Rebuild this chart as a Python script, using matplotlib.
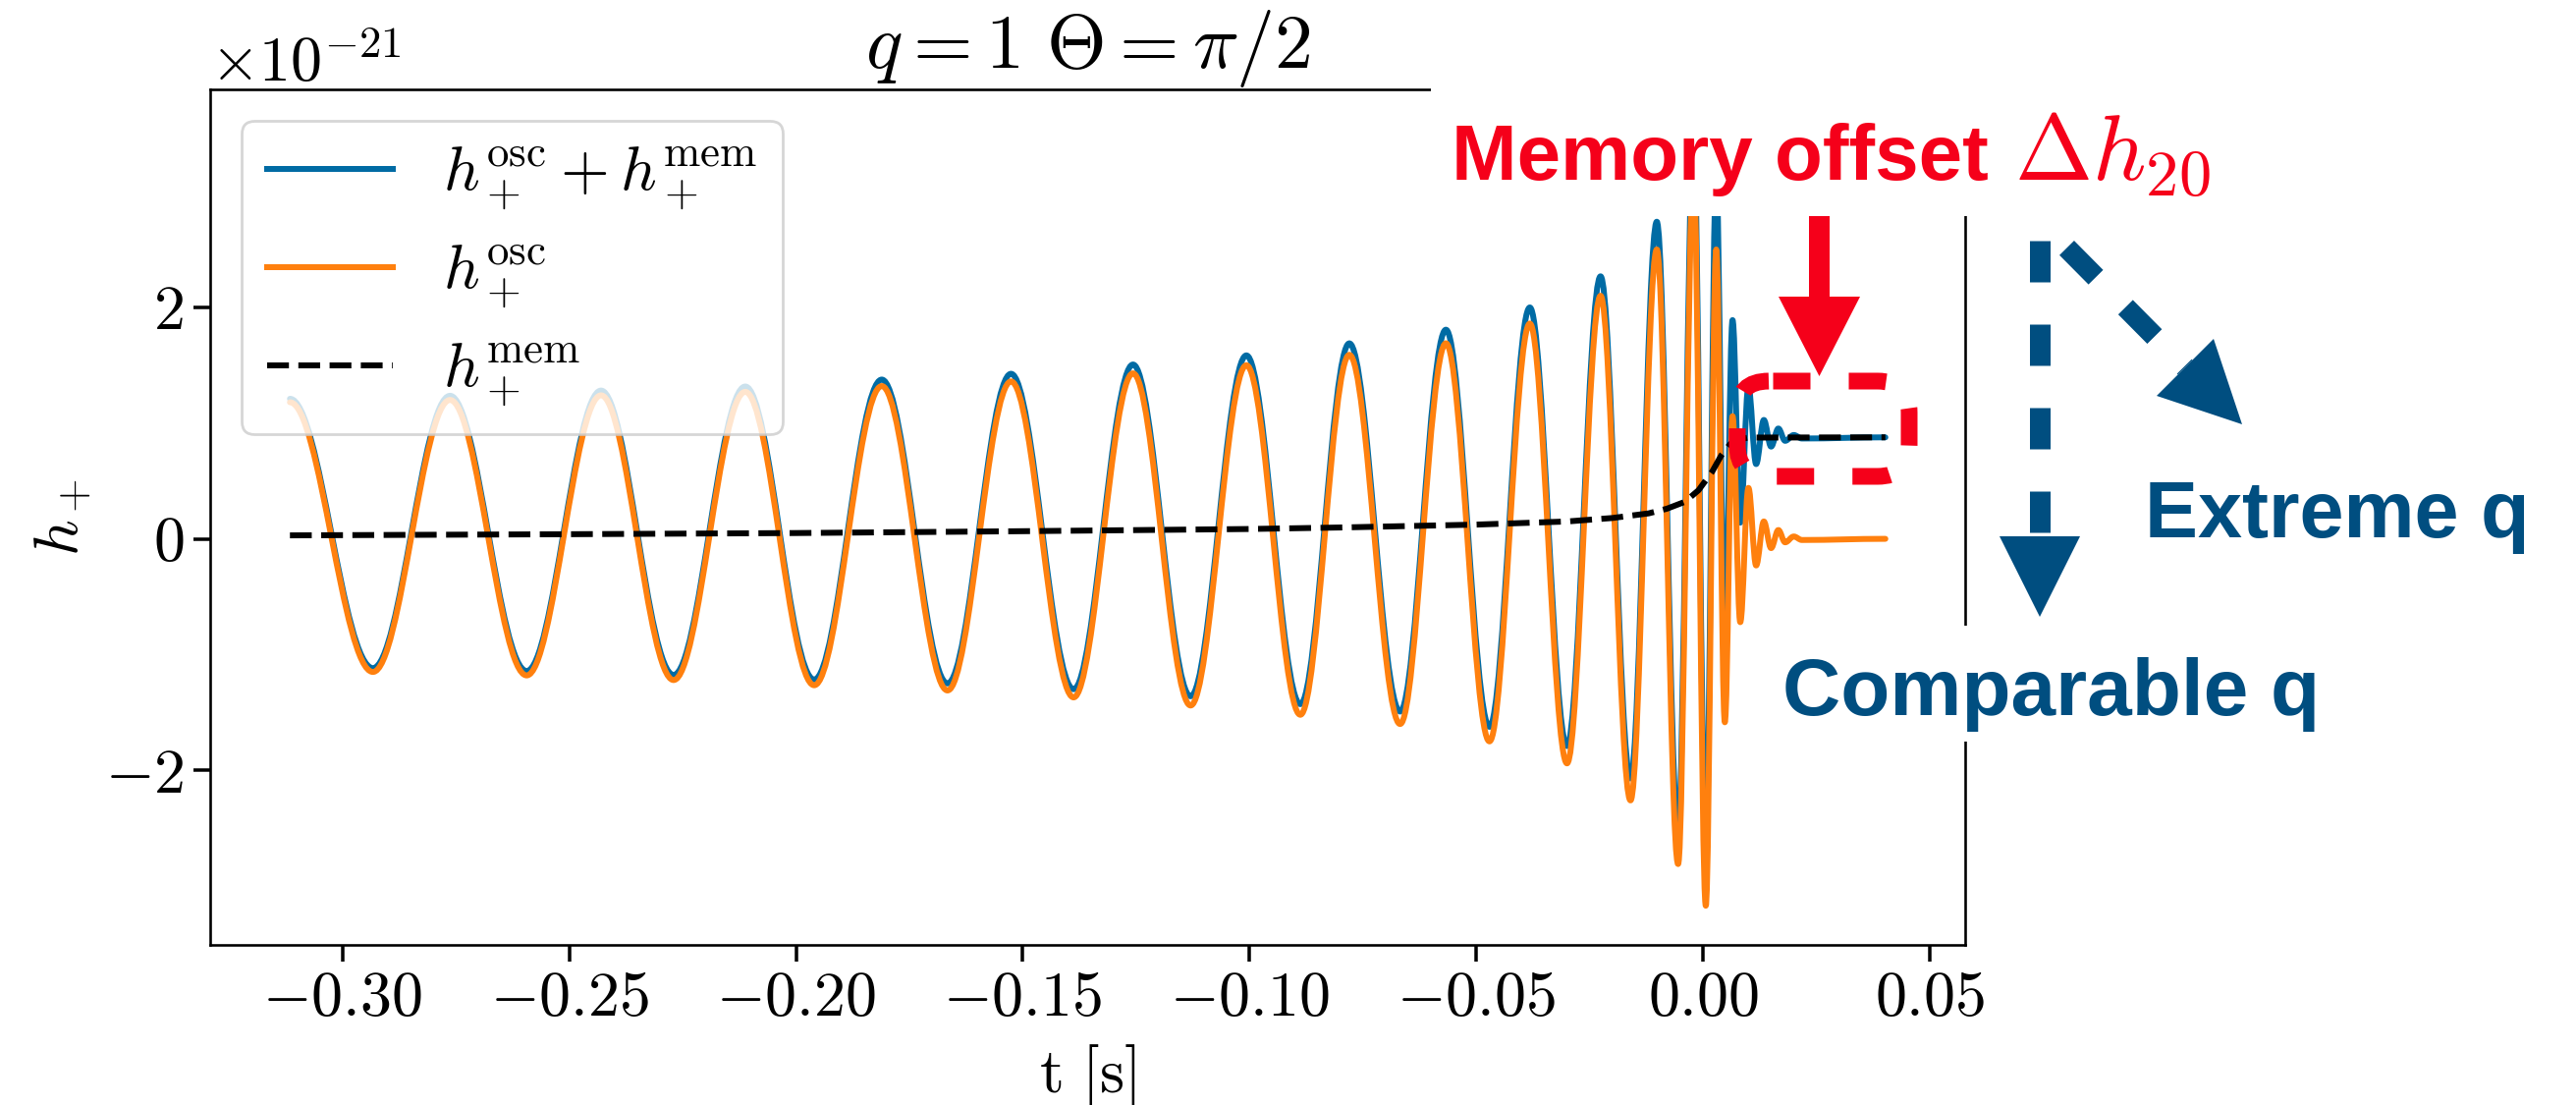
"""
Memory effect sketch: oscillatory strain vs. strain with memory, q = 1, Theta = pi/2.
"""

import numpy as np
import matplotlib
matplotlib.use("Agg")
import matplotlib.pyplot as plt
from matplotlib.path import Path
from matplotlib.patches import PathPatch, Rectangle, Polygon, FancyBboxPatch
from matplotlib.lines import Line2D
from matplotlib.ticker import MultipleLocator, FuncFormatter

plt.rcParams["mathtext.fontset"] = "cm"
plt.rcParams["font.family"] = "serif"
plt.rcParams["font.serif"] = ["cmr10", "DejaVu Serif"]
plt.rcParams["axes.formatter.use_mathtext"] = True

DPI = 200
W, H = 2623, 1125


def px(v):
    # pixel size -> points
    return v * 72 / DPI


COLORS = {
    "full": "#006BA4",
    "osc": "#FF800E",
    "mem": "black",
    "red": "#f5001a",
    "navy": "#004e80",
}

# extrema of h_+^osc, units of 1e-21
t_ext = [-0.3116, -0.2933, -0.2763, -0.2594, -0.2430, -0.2270, -0.2112, -0.1960,
         -0.1811, -0.1666, -0.1526, -0.1388, -0.1257, -0.1130, -0.1007, -0.0888,
         -0.0780, -0.0668, -0.0567, -0.0471, -0.0382, -0.0300, -0.0226, -0.0160,
         -0.0102, -0.0055, -0.0021, 0.0006, 0.0029, 0.0048, 0.0065, 0.0082,
         0.0100, 0.0117, 0.0134, 0.0150, 0.0166, 0.0181, 0.0200, 0.0218, 0.0402]
h_osc = [1.18, -1.15, 1.20, -1.18, 1.24, -1.22, 1.27, -1.265,
         1.32, -1.31, 1.36, -1.37, 1.43, -1.44, 1.50, -1.52,
         1.59, -1.60, 1.69, -1.75, 1.86, -1.94, 2.10, -2.26,
         2.50, -2.81, 3.17, -3.17, 2.50, -1.585, 1.06, -0.72,
         0.44, -0.23, 0.15, -0.08, 0.076, -0.03, 0.02, -0.01, 0.0]
# h_+^osc + h_+^mem at the same times
h_full = [1.21, -1.117, 1.236, -1.142, 1.281, -1.176, 1.316, -1.216,
          1.376, -1.249, 1.426, -1.299, 1.506, -1.36, 1.585, -1.428,
          1.689, -1.492, 1.807, -1.624, 1.999, -1.79, 2.268, -2.07,
          2.74, -2.51, 3.55, -2.70, 3.13, -0.835, 1.89, 0.14,
          1.315, 0.646, 1.027, 0.797, 0.953, 0.847, 0.897, 0.867, 0.877]

# memory component
t_mem = [-0.3116, -0.25, -0.20, -0.15, -0.10, -0.08, -0.05, -0.03, -0.02, -0.012,
         -0.008, -0.004, -0.001, 0.002, 0.004, 0.006, 0.008, 0.010, 0.0402]
h_mem = [0.030, 0.040, 0.050, 0.066, 0.085, 0.098, 0.123, 0.150, 0.180, 0.220,
         0.260, 0.320, 0.420, 0.580, 0.720, 0.820, 0.860, 0.875, 0.877]

LABELS = [r"$h_+^{\rm osc}+h_+^{\rm mem}$", r"$h_+^{\rm osc}$", r"$h_+^{\rm mem}$"]


def extrema_path(t, v, k=0.3634):
    # cubic Bezier through successive extrema, flat tangent at each one
    verts = [(t[0], v[0])]
    codes = [Path.MOVETO]
    for i in range(len(t) - 1):
        dt = t[i + 1] - t[i]
        verts += [(t[i] + k * dt, v[i]), (t[i + 1] - k * dt, v[i + 1]), (t[i + 1], v[i + 1])]
        codes += [Path.CURVE4] * 3
    return Path(verts, codes)


fig = plt.figure(figsize=(W / DPI, H / DPI), dpi=DPI)
fig.patch.set_facecolor("white")
ax = fig.add_axes([214 / W, 1 - 961.7 / H, (2001 - 214) / W, (961.7 - 90.7) / H])

LW = px(6)
ax.add_patch(PathPatch(extrema_path(t_ext, h_full), fill=False, ec=COLORS["full"], lw=LW,
                       joinstyle="round", capstyle="round", zorder=2))
ax.add_patch(PathPatch(extrema_path(t_ext, h_osc), fill=False, ec=COLORS["osc"], lw=LW,
                       joinstyle="round", capstyle="round", zorder=2.1))
ax.plot(t_mem, h_mem, color=COLORS["mem"], ls="--", lw=LW, zorder=2.2)

# limits with matplotlib's default 5% margins
tmin, tmax = min(t_ext), max(t_ext)
vmin = min(min(h_osc), min(h_full), min(h_mem))
vmax = max(max(h_osc), max(h_full), max(h_mem))
ax.set_xlim(tmin - 0.05 * (tmax - tmin), tmax + 0.05 * (tmax - tmin))
ax.set_ylim(vmin - 0.05 * (vmax - vmin), vmax + 0.05 * (vmax - vmin))

ax.xaxis.set_major_locator(MultipleLocator(0.05))
ax.set_yticks([-2, 0, 2])
ax.xaxis.set_major_formatter(FuncFormatter(lambda x, p: f"${x:.2f}$".replace("-", "-")))
ax.yaxis.set_major_formatter(FuncFormatter(lambda y, p: f"${y:g}$"))
ax.tick_params(axis="both", direction="out", length=px(17), width=px(3.5),
               labelsize=px(64), pad=px(10))
for sp in ax.spines.values():
    sp.set_linewidth(px(2.6))

ax.set_xlabel(r"$\mathrm{t\ [s]}$", fontsize=px(64), labelpad=px(14))
ax.set_ylabel(r"$h_+$", fontsize=px(64), labelpad=px(12))
ax.set_title(r"$q=1\ \Theta=\pi/2$", fontsize=px(78), pad=px(18))
ax.annotate(r"$\times10^{-21}$", xy=(0, 1), xycoords="axes fraction",
            xytext=(0, px(8)), textcoords="offset points",
            ha="left", va="baseline", fontsize=px(64))

handles = [Line2D([], [], color=COLORS["full"], lw=LW),
           Line2D([], [], color=COLORS["osc"], lw=LW),
           Line2D([], [], color=COLORS["mem"], lw=LW, ls="--")]
ax.legend(handles, LABELS, loc="upper left", fontsize=px(64))

# annotation layer in figure pixels (y downward)
ov = fig.add_axes([0, 0, 1, 1], zorder=5)
ov.set_xlim(0, W)
ov.set_ylim(H, 0)
ov.axis("off")

ov.add_patch(Rectangle((1457, 0), W - 1457, 220, fc="white", ec="none", zorder=1))
ov.add_patch(Rectangle((1800, 637), 565, 118, fc="white", ec="none", zorder=1))

sans = ["Liberation Sans", "DejaVu Sans"]
ov.text(1478, 183, "Memory offset", color=COLORS["red"], fontsize=px(80),
        fontweight="bold", family=sans, ha="left", va="baseline", zorder=3)
ov.text(2051, 183, r"$\Delta h_{20}$", color=COLORS["red"], fontsize=px(95),
        ha="left", va="baseline", zorder=3)
ov.text(2184, 547, "Extreme q", color=COLORS["navy"], fontsize=px(81),
        fontweight="bold", family=sans, ha="left", va="baseline", zorder=3)
ov.text(1815, 728, "Comparable q", color=COLORS["navy"], fontsize=px(82),
        fontweight="bold", family=sans, ha="left", va="baseline", zorder=3)

# red arrow and dashed box around the offset
red_lw = px(17)
ov.add_patch(FancyBboxPatch((1769, 388), 175, 97, boxstyle="round,pad=0,rounding_size=32",
                            fill=False, ec=COLORS["red"], lw=red_lw,
                            ls=(72.5 / 17, (38 / 17, 39 / 17)), zorder=2))
ov.add_patch(Rectangle((1842, 220), 21, 82, fc=COLORS["red"], ec="none", zorder=2))
ov.add_patch(Polygon([(1811, 302), (1894, 302), (1852.5, 383)], closed=True,
                     fc=COLORS["red"], ec="none", zorder=2))

# blue dashed arrows
blw = px(21)
dash = (42 / 21, 43 / 21)
ov.add_line(Line2D([2077, 2077], [245, 546], color=COLORS["navy"], lw=blw,
                   ls=(0, dash), solid_capstyle="butt", dash_capstyle="butt", zorder=2))
ov.add_patch(Polygon([(2036, 546), (2118, 546), (2077, 628)], closed=True,
                     fc=COLORS["navy"], ec="none", zorder=2))
ov.add_line(Line2D([2104.5, 2225], [252.4, 374], color=COLORS["navy"], lw=blw,
                   ls=(0, dash), solid_capstyle="butt", dash_capstyle="butt", zorder=2))
ov.add_patch(Polygon([(2254, 345), (2196, 403), (2283, 432)], closed=True,
                     fc=COLORS["navy"], ec="none", zorder=2))

fig.savefig("out.png", dpi=DPI, facecolor="white")
plt.close(fig)
